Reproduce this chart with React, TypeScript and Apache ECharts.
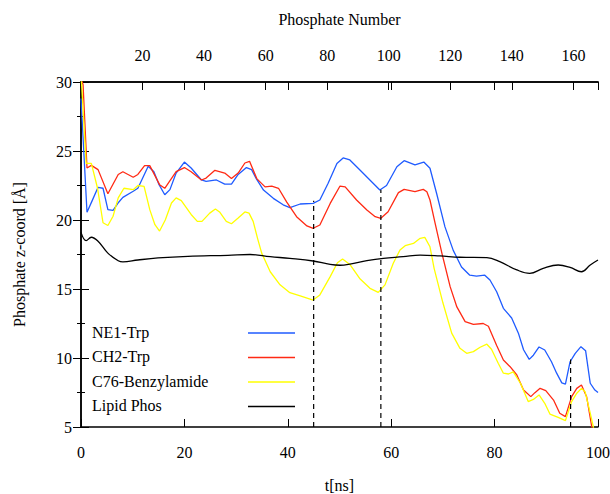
import React, { useEffect, useRef } from "react";
import * as echarts from "echarts";

// NE1-Trp [t(ns), z(Å)]
const ne1Trp: number[][] = [
  [0, 28.8], [1.16, 20.56], [2.1, 21.35], [3.3, 22.37], [4.26, 22.3], [5.2, 20.75], [6.2, 20.7],
  [7.16, 21.23], [8.1, 21.64], [10.1, 22.08], [11.0, 22.3], [13.0, 23.9], [14.1, 23.5], [15.1, 22.56],
  [16.2, 21.83], [17.2, 22.2], [18.4, 23.4], [20.0, 24.2], [21.3, 23.77], [23.3, 22.9], [24.2, 22.8],
  [26.2, 22.9], [27.8, 22.6], [29.1, 22.6], [30.4, 23.3], [32.0, 23.8], [33.0, 23.65], [33.9, 23.0],
  [35.3, 22.17], [37.2, 21.57], [39.1, 21.1], [40.4, 20.9], [42.4, 21.16], [44.9, 21.2], [46.2, 21.45],
  [47.8, 22.66], [49.5, 24.1], [50.7, 24.5], [52.0, 24.35], [54.0, 23.6], [56.5, 22.66], [57.8, 22.17],
  [59.1, 22.5], [61.1, 23.86], [62.5, 24.3], [64.6, 24.0], [66.3, 24.2], [67.5, 23.75], [68.8, 21.9],
  [70.4, 19.5], [72.0, 17.8], [73.6, 16.6], [75.2, 16.0], [76.5, 15.94], [78.1, 16.0], [79.1, 15.65],
  [80.4, 14.8], [81.7, 13.6], [83.3, 12.9], [84.6, 11.8], [85.6, 10.6], [86.7, 9.9], [87.5, 10.2],
  [88.6, 10.8], [89.7, 10.58], [91.0, 9.73], [92.0, 8.9], [93.0, 8.2], [93.7, 8.1], [94.6, 9.73],
  [95.6, 10.34], [96.7, 10.82], [97.6, 10.53], [98.5, 8.17], [99.4, 7.68], [100, 7.5],
];

// CH2-Trp
const ch2Trp: number[][] = [
  [0, 30.3], [0.4, 29.8], [1.16, 23.77], [2.0, 23.96], [3.3, 23.65], [5.2, 21.9], [7.2, 23.3],
  [8.1, 23.5], [10.1, 23.1], [11.0, 23.3], [12.3, 23.94], [13.3, 23.94], [15.2, 22.56], [16.2, 22.3],
  [18.4, 23.5], [20.0, 23.8], [21.3, 23.5], [23.3, 22.9], [24.2, 23.04], [25.9, 23.6], [27.8, 23.4],
  [29.1, 23.0], [30.4, 23.4], [31.7, 24.13], [32.6, 24.25], [34.0, 23.0], [35.6, 22.4], [36.9, 22.46],
  [38.2, 22.3], [39.8, 21.3], [41.7, 20.24], [43.7, 19.57], [44.9, 19.4], [46.2, 19.64], [48.2, 21.2],
  [50.1, 22.46], [51.1, 22.4], [53.3, 21.45], [55.3, 20.72], [56.9, 20.24], [58.0, 20.12], [59.4, 20.6],
  [61.4, 21.98], [62.5, 22.22], [64.6, 22.05], [66.2, 22.22], [66.9, 22.05], [67.5, 21.45], [68.5, 19.76],
  [69.8, 17.6], [71.4, 15.17], [72.7, 13.7], [74.3, 12.64], [75.9, 12.44], [77.8, 12.5], [78.8, 12.3],
  [80.4, 10.9], [81.7, 9.86], [83.0, 9.37], [84.3, 8.77], [85.6, 7.68], [87.0, 7.2], [87.8, 7.49],
  [88.8, 7.8], [89.9, 7.63], [91.4, 6.95], [92.6, 6.0], [93.7, 5.75], [94.9, 7.2], [95.9, 7.8],
  [96.8, 8.04], [97.8, 7.2], [98.8, 5.0], [99.3, 4.0],
];

// C76-Benzylamide
const c76Benzylamide: number[][] = [
  [0, 30.6], [1.0, 24.1], [2.0, 24.1], [3.2, 22.3], [4.26, 19.8], [5.2, 19.6], [6.2, 20.27],
  [7.2, 21.6], [8.3, 22.3], [10.1, 22.2], [11.0, 22.5], [12.2, 22.44], [13.3, 20.75], [14.3, 19.66],
  [15.2, 19.2], [16.3, 20.0], [17.5, 21.23], [18.4, 21.6], [19.4, 21.4], [21.3, 20.4], [22.5, 19.9],
  [23.4, 19.9], [24.9, 20.5], [26.0, 20.8], [26.8, 20.58], [28.1, 19.9], [29.1, 19.73], [30.4, 20.14],
  [31.7, 20.58], [32.5, 20.5], [33.3, 19.9], [34.2, 18.6], [34.95, 17.6], [36.6, 16.25], [38.5, 15.3],
  [40.4, 14.73], [42.4, 14.5], [44.9, 14.2], [46.2, 14.57], [48.2, 15.9], [49.6, 16.9], [50.6, 17.17],
  [52.0, 16.78], [54.0, 15.72], [55.9, 15.05], [57.5, 14.76], [58.8, 15.3], [60.4, 16.86], [61.7, 17.83],
  [62.7, 18.14], [64.3, 18.3], [65.6, 18.67], [66.5, 18.74], [67.5, 18.06], [68.3, 16.5], [70.0, 14.0],
  [71.7, 11.8], [73.3, 10.7], [74.6, 10.34], [75.9, 10.46], [77.2, 10.78], [78.5, 11.0], [79.4, 10.63],
  [80.7, 9.62], [81.7, 8.9], [82.7, 8.84], [83.6, 9.0], [85.0, 8.17], [86.5, 6.84], [87.5, 7.0],
  [88.6, 7.32], [89.7, 6.72], [90.7, 5.94], [92.3, 5.7], [93.7, 5.46], [94.9, 6.84], [95.9, 7.45],
  [96.8, 7.8], [97.5, 7.56], [98.5, 6.0], [99.1, 5.0], [99.5, 4.0],
];

// Lipid Phos
const lipidPhos: number[][] = [
  [0, 19.1], [1.0, 18.5], [2.0, 18.75], [3.3, 18.46], [5.2, 17.6], [7.2, 17.05], [8.1, 16.96],
  [11.0, 17.1], [14.9, 17.25], [20.7, 17.37], [28.4, 17.44], [32.7, 17.5], [36.6, 17.34], [40.4, 17.22],
  [44.9, 17.03], [48.2, 16.78], [50.1, 16.72], [52.0, 16.8], [55.3, 17.05], [58.5, 17.22], [62.3, 17.34],
  [65.6, 17.46], [69.4, 17.4], [73.3, 17.3], [78.5, 17.27], [81.0, 16.98], [84.3, 16.38], [86.8, 16.13],
  [89.4, 16.5], [92.3, 16.74], [94.6, 16.57], [96.8, 16.25], [98.5, 16.74], [100, 17.1],
];

// vertical dashed markers: time and top value
const markerT = [45, 58, 94.7];
const markerTop = [21.4, 22.2, 9.9];

const seriesNames = ["NE1-Trp", "CH2-Trp", "C76-Benzylamide", "Lipid Phos"];
const seriesColors = ["#1f5bff", "#ff2a14", "#ffff00", "#000000"];

const FONT = "Liberation Serif";

export default function App() {
  const ref = useRef<HTMLDivElement>(null);

  useEffect(() => {
    if (!ref.current) return;
    const chart = echarts.init(ref.current, null, { renderer: "svg" });
    const dataSets = [ne1Trp, ch2Trp, c76Benzylamide, lipidPhos];

    const lineSeries: any[] = dataSets.map((d, i) => ({
      name: seriesNames[i],
      type: "line",
      data: d,
      xAxisIndex: 0,
      yAxisIndex: 0,
      showSymbol: false,
      smooth: i === 3 ? 0.4 : false,
      clip: true,
      lineStyle: { color: seriesColors[i], width: 1.3 },
      itemStyle: { color: seriesColors[i] },
      z: 3,
    }));

    const dashSeries: any[] = markerT.map((t, i) => ({
      type: "line",
      data: [[t, 5], [t, markerTop[i]]],
      xAxisIndex: 0,
      yAxisIndex: 0,
      showSymbol: false,
      silent: true,
      lineStyle: { color: "#000", width: 1.2, type: [5, 4] },
      z: 4,
    }));

    const legendTop = [333, 357.5, 382, 406.5];
    const legendGraphics: any[] = [];
    seriesNames.forEach((n, i) => {
      legendGraphics.push({
        type: "text",
        left: 92,
        top: legendTop[i] - 9,
        style: { text: n, fontFamily: FONT, fontSize: 16, fill: "#000" },
        z: 10,
      });
      legendGraphics.push({
        type: "line",
        shape: { x1: 248, y1: legendTop[i], x2: 295, y2: legendTop[i] },
        style: { stroke: seriesColors[i], lineWidth: 1.3 },
        z: 10,
      });
    });

    const axisLine = { show: true, lineStyle: { color: "#000", width: 1.5 } };
    const labelStyle = { color: "#000", fontFamily: FONT, fontSize: 16 };

    chart.setOption({
      animation: false,
      backgroundColor: "#fff",
      textStyle: { fontFamily: FONT },
      grid: {
        left: 81,
        top: 82,
        right: 12,
        bottom: 67,
        containLabel: false,
        outerBoundsMode: "none",
      },
      xAxis: [
        {
          type: "value",
          position: "bottom",
          min: 0,
          max: 100,
          interval: 20,
          name: "t[ns]",
          nameLocation: "middle",
          nameGap: 50,
          nameTextStyle: { ...labelStyle },
          axisLine,
          axisTick: { show: true, inside: true, length: 8, lineStyle: { color: "#000", width: 1 } },
          axisLabel: { ...labelStyle, margin: 17 },
          splitLine: { show: false },
        },
        {
          type: "value",
          position: "top",
          min: 0,
          max: 168,
          interval: 20,
          name: "Phosphate Number",
          nameLocation: "middle",
          nameGap: 55,
          nameTextStyle: { ...labelStyle },
          axisLine,
          axisTick: { show: true, inside: true, length: 8, lineStyle: { color: "#000", width: 1 } },
          axisLabel: { ...labelStyle, margin: 19, showMinLabel: false, showMaxLabel: false },
          splitLine: { show: false },
        },
        {
          type: "value",
          position: "top",
          min: 0,
          max: 100,
          interval: 20,
          axisLine,
          axisTick: { show: true, inside: true, length: 8, lineStyle: { color: "#000", width: 1 } },
          axisLabel: { show: false },
          splitLine: { show: false },
        },
      ],
      yAxis: [
        {
          type: "value",
          position: "left",
          min: 5,
          max: 30,
          interval: 5,
          name: "Phosphate z-coord [Å]",
          nameLocation: "middle",
          nameGap: 54,
          nameTextStyle: { ...labelStyle },
          axisLine,
          axisTick: { show: true, inside: true, length: 8, lineStyle: { color: "#000", width: 1 } },
          minorTick: { show: true, splitNumber: 2, length: 4, lineStyle: { color: "#000", width: 1 } },
          axisLabel: { ...labelStyle, margin: 9 },
          splitLine: { show: false },
          minorSplitLine: { show: false },
        },
        {
          type: "value",
          position: "right",
          min: 5,
          max: 30,
          interval: 5,
          axisLine,
          axisTick: { show: true, inside: true, length: 8, lineStyle: { color: "#000", width: 1 } },
          minorTick: { show: true, splitNumber: 2, length: 4, lineStyle: { color: "#000", width: 1 } },
          axisLabel: { show: false },
          splitLine: { show: false },
          minorSplitLine: { show: false },
        },
      ],
      graphic: legendGraphics,
      series: [...lineSeries, ...dashSeries],
    });

    return () => chart.dispose();
  }, []);

  return <div ref={ref} style={{ width: 610, height: 494, position: "absolute", left: 0, top: 0 }} />;
}
